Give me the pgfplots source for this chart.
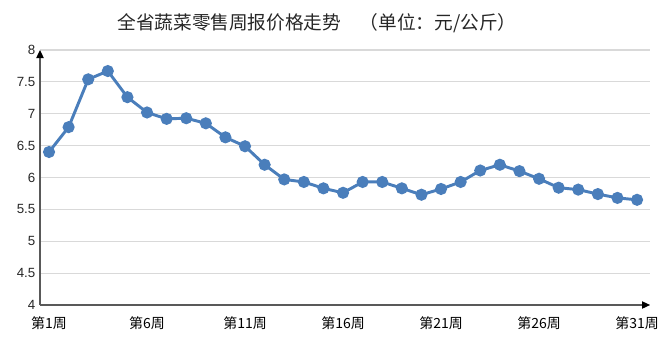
\documentclass[border=0pt]{standalone}
\usepackage{pgfplots}
\pgfplotsset{compat=1.18}
\usepackage{fontspec}
\setmainfont{Liberation Sans}
\newfontfamily\cjk{Noto Sans CJK SC}
\usetikzlibrary{arrows.meta}
\definecolor{lineblue}{HTML}{4A7EBB}
\definecolor{gridgray}{HTML}{D9D9D9}
\definecolor{axisgray}{HTML}{595959}
\begin{document}
\begin{tikzpicture}
\useasboundingbox (0,0) rectangle (495.75pt,252.75pt);
\node[font=\cjk\fontsize{14}{16}\selectfont, text=black!85, anchor=west, inner sep=0pt] at (87.8pt,235pt) {全省蔬菜零售周报价格走势\hspace{1em}（单位：元/公斤）};
\begin{axis}[
  anchor=south west, at={(30pt,24pt)},
  width=457.5pt, height=191.25pt, scale only axis,
  xmin=0.54, xmax=31.66, ymin=4, ymax=8,
  axis lines=left,
  axis line style={axisgray, line width=0.9pt, -{Triangle[length=6pt,width=5.5pt,color=black,fill=black]}},
  ytick={4,4.5,5,5.5,6,6.5,7,7.5,8},
  ymajorgrids, grid style={gridgray, line width=0.8pt},
  major tick length=0,
  xtick={1,6,11,16,21,26,31},
  xticklabels={第1周,第6周,第11周,第16周,第21周,第26周,第31周},
  xticklabel style={font=\cjk\fontsize{10.5}{12}\selectfont, yshift=-5pt},
  yticklabel style={font=\fontsize{10}{12}\selectfont, text=black!85},
  /pgf/number format/assume math mode=true,
  clip=false,
]
\addplot[lineblue, line width=2.2pt, mark=*, mark size=3.4pt, mark options={solid, fill=lineblue, draw=none}] coordinates {
(1,6.40) (2,6.79) (3,7.54) (4,7.67) (5,7.26) (6,7.02) (7,6.92) (8,6.93)
(9,6.85) (10,6.63) (11,6.49) (12,6.20) (13,5.97) (14,5.93) (15,5.83) (16,5.76)
(17,5.93) (18,5.93) (19,5.83) (20,5.73) (21,5.82) (22,5.93) (23,6.11) (24,6.20)
(25,6.10) (26,5.98) (27,5.84) (28,5.81) (29,5.74) (30,5.68) (31,5.65)
};
\end{axis}
\end{tikzpicture}
\end{document}
